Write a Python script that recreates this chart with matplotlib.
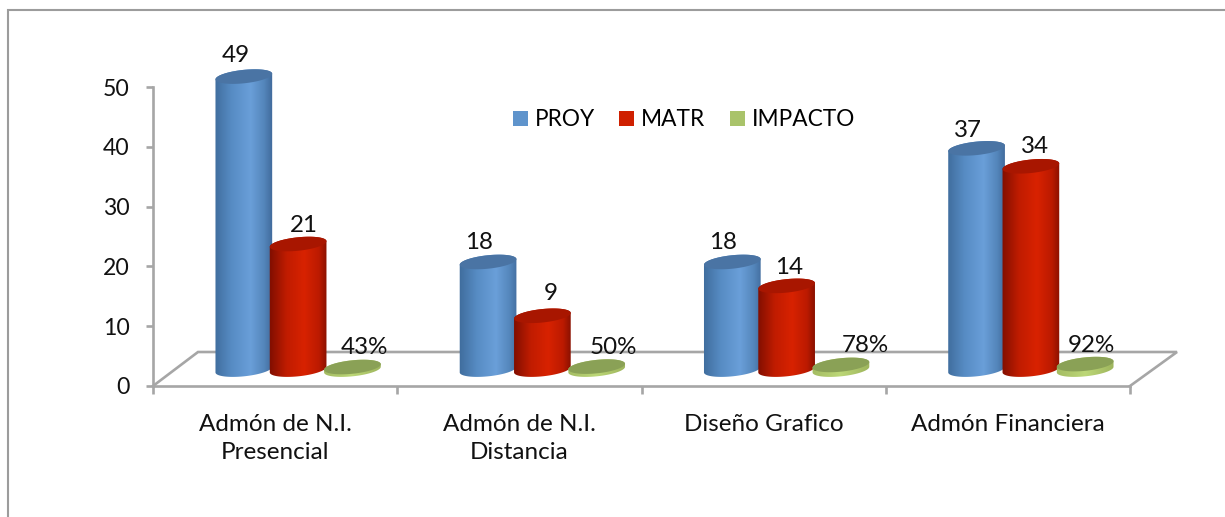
import numpy as np
import matplotlib
matplotlib.use("Agg")
import matplotlib.pyplot as plt
from matplotlib.colors import LinearSegmentedColormap
from matplotlib.lines import Line2D
from matplotlib.patches import Patch, Polygon

categories = ["Admón de N.I.\nPresencial", "Admón de N.I.\nDistancia", "Diseño Grafico", "Admón Financiera"]
proy = [49, 18, 18, 37]
matr = [21, 9, 14, 34]
impacto = [0.43, 0.50, 0.78, 0.92]
series_names = ["PROY", "MATR", "IMPACTO"]
y_ticks = [0, 10, 20, 30, 40, 50]

W, H = 1225, 517
plt.rcParams["font.family"] = ["Lato", "DejaVu Sans"]
FS_TICK = 16.6
FS_DATA = 17.4
FS_CAT = 17.5
FS_LEG = 16.3
GRAY = "#a6a6a6"
TXT = "#111111"

fig = plt.figure(figsize=(W / 100, H / 100), dpi=100, facecolor="white")
# plot box: x 153..1130, y 87..386 in image pixels
ax = fig.add_axes([153 / W, 1 - 386 / H, (1130 - 153) / W, (386 - 87) / H])
ax.patch.set_visible(False)

PX = 4 / (1130 - 153)   # category units per pixel
PY = 50 / (386 - 87)    # value units per pixel

# outer frame, only top and left are visible
fig.add_artist(Line2D([8 / W, 8 / W, 1], [0, 1 - 10 / H, 1 - 10 / H], color="#9c9c9c", lw=1.5,
                      transform=fig.transFigure, solid_joinstyle="miter"))

# 3-D floor
DX, DY = 45 * PX, 34 * PY
floor_x = [-0.5, -0.5 + DX, 3.5 + 47 * PX, 3.5]
floor_y = [0, DY, DY, 0]
ax.plot(floor_x, floor_y, color=GRAY, lw=1.9, clip_on=False, zorder=1, solid_joinstyle="miter")

# cylinders
DEPTH = 23 * PX
BASE = 16.4 * PY
GROUP = 54.3 * PX
A, B, TILT = 28.5, 6.7, np.deg2rad(6)


def ring(cx, cy, t):
    x = A * np.cos(t)
    y = B * np.sin(t)
    xr = x * np.cos(TILT) - y * np.sin(TILT)
    yr = x * np.sin(TILT) + y * np.cos(TILT)
    return np.column_stack([cx + xr * PX, cy + yr * PY])


def cylinder(cx, value, side, top, z):
    y1 = BASE + value
    pts = np.vstack([ring(cx, y1, np.linspace(0, np.pi, 50)),
                     ring(cx, BASE, np.linspace(np.pi, 2 * np.pi, 50))])
    clip = Polygon(pts, closed=True, transform=ax.transData, fc="none", ec="none", clip_on=False)
    ax.add_patch(clip)
    cmap = LinearSegmentedColormap.from_list("c", side)
    grad = np.linspace(0, 1, 256).reshape(1, -1)
    im = ax.imshow(grad, cmap=cmap, aspect="auto", interpolation="bilinear",
                   extent=[cx - (A + 1) * PX, cx + (A + 1) * PX, BASE - (B + 4) * PY, y1 + (B + 4) * PY],
                   zorder=z)
    im.set_clip_box(fig.bbox)
    im.set_clip_path(clip)
    ax.add_patch(Polygon(ring(cx, y1, np.linspace(0, 2 * np.pi, 100)), closed=True, fc=top, ec="none",
                         zorder=z + 0.1, clip_on=False))


blue = [(0, "#3f6c9c"), (0.3, "#578cc4"), (0.62, "#6a9fd9"), (0.85, "#5486bb"), (1, "#40699a")]
red = [(0, "#7e0e00"), (0.3, "#c01c00"), (0.6, "#d82200"), (0.85, "#bb1a00"), (1, "#841000")]
green = [(0, "#a3bb62"), (0.5, "#bcd777"), (1, "#9db45c")]
styles = [(proy, blue, "#4a74a4"), (matr, red, "#a81600"), (impacto, green, "#8aa156")]

for s, (vals, side, top) in enumerate(styles):
    for i, v in enumerate(vals):
        cylinder(i + DEPTH + (s - 1) * GROUP, v, side, top, 3 + s + i * 0.01)

# data labels (nudged as in the original chart)
nudge_x = [[-8, -9, -9, -9], [6, 8, 2, 4], [12, 17, 24, 6]]
nudge_y = [[20.6, 19, 19, 18], [19, 22, 18, 20], [20, 19, 19, 19]]
for s, (vals, _, _) in enumerate(styles):
    for i, v in enumerate(vals):
        label = f"{v:.0%}" if s == 2 else f"{v}"
        ax.text(i + DEPTH + (s - 1) * GROUP + nudge_x[s][i] * PX, BASE + v + nudge_y[s][i] * PY,
                label, ha="center", va="center", fontsize=FS_DATA, color=TXT, zorder=10)

# axes
ax.set_xlim(-0.5, 3.5)
ax.set_ylim(0, 50)
for side in ("top", "right"):
    ax.spines[side].set_visible(False)
for side in ("left", "bottom"):
    ax.spines[side].set_color(GRAY)
    ax.spines[side].set_linewidth(1.9)
ax.set_yticks(y_ticks)
ax.set_xticks(np.arange(-0.5, 4, 1))
ax.set_xticklabels([])
ax.set_xticks(range(len(categories)), categories, minor=True, multialignment="center", linespacing=1.45)
ax.tick_params(axis="y", length=5, width=1.9, color=GRAY, labelsize=FS_TICK, labelcolor=TXT, pad=12)
ax.tick_params(axis="x", which="major", length=6, width=1.9, color=GRAY)
ax.tick_params(axis="x", which="minor", length=0, labelsize=FS_CAT, labelcolor=TXT, pad=20)

# legend
handles = [Patch(fc=c, ec="none") for c in ("#5f94cc", "#cf2000", "#a9c36a")]
ax.legend(handles, series_names, ncol=3, frameon=False, fontsize=FS_LEG,
          loc="center left", bbox_to_anchor=(513 / W, 1 - 120 / H), bbox_transform=fig.transFigure,
          handlelength=0.66, handleheight=0.66, handletextpad=0.3, columnspacing=1.08, borderpad=0, borderaxespad=0)

fig.savefig("out.png", dpi=100, facecolor="white")
